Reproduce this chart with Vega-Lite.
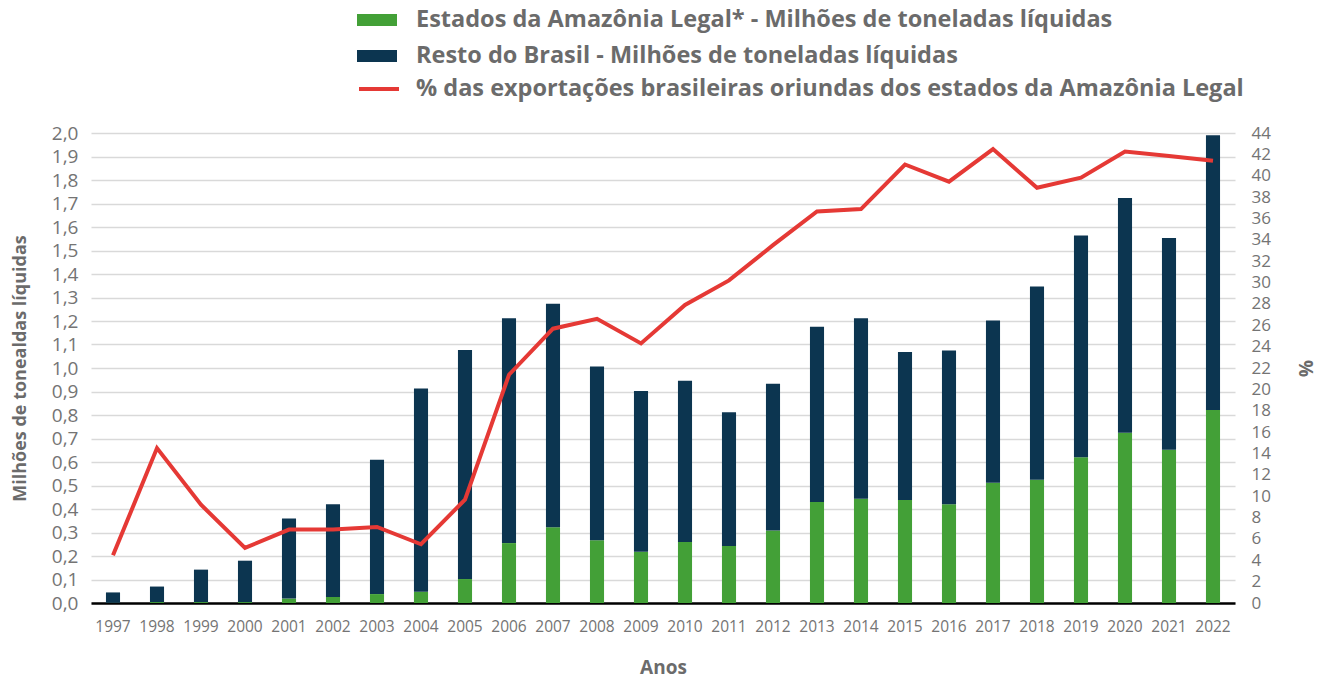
{
  "$schema": "https://vega.github.io/schema/vega-lite/v6.json",
  "width": 1144,
  "height": 470,
  "autosize": {"type": "none"},
  "padding": {"left": 91, "top": 133, "right": 92, "bottom": 76},
  "background": "white",
  "config": {
    "font": "Open Sans",
    "view": {"stroke": null},
    "axis": {"labelColor": "#747474", "titleColor": "#6b6b6b", "labelFont": "Open Sans", "titleFont": "Open Sans"}
  },
  "datasets": {
    "barras": [
      {"ano": "1997", "serie": "Estados da Amazônia Legal* - Milhões de toneladas líquidas", "valor": 0.001},
      {"ano": "1997", "serie": "Resto do Brasil - Milhões de toneladas líquidas", "valor": 0.044},
      {"ano": "1998", "serie": "Estados da Amazônia Legal* - Milhões de toneladas líquidas", "valor": 0.004},
      {"ano": "1998", "serie": "Resto do Brasil - Milhões de toneladas líquidas", "valor": 0.066},
      {"ano": "1999", "serie": "Estados da Amazônia Legal* - Milhões de toneladas líquidas", "valor": 0.004},
      {"ano": "1999", "serie": "Resto do Brasil - Milhões de toneladas líquidas", "valor": 0.138},
      {"ano": "2000", "serie": "Estados da Amazônia Legal* - Milhões de toneladas líquidas", "valor": 0.004},
      {"ano": "2000", "serie": "Resto do Brasil - Milhões de toneladas líquidas", "valor": 0.176},
      {"ano": "2001", "serie": "Estados da Amazônia Legal* - Milhões de toneladas líquidas", "valor": 0.019},
      {"ano": "2001", "serie": "Resto do Brasil - Milhões de toneladas líquidas", "valor": 0.341},
      {"ano": "2002", "serie": "Estados da Amazônia Legal* - Milhões de toneladas líquidas", "valor": 0.026},
      {"ano": "2002", "serie": "Resto do Brasil - Milhões de toneladas líquidas", "valor": 0.394},
      {"ano": "2003", "serie": "Estados da Amazônia Legal* - Milhões de toneladas líquidas", "valor": 0.038},
      {"ano": "2003", "serie": "Resto do Brasil - Milhões de toneladas líquidas", "valor": 0.572},
      {"ano": "2004", "serie": "Estados da Amazônia Legal* - Milhões de toneladas líquidas", "valor": 0.048},
      {"ano": "2004", "serie": "Resto do Brasil - Milhões de toneladas líquidas", "valor": 0.865},
      {"ano": "2005", "serie": "Estados da Amazônia Legal* - Milhões de toneladas líquidas", "valor": 0.102},
      {"ano": "2005", "serie": "Resto do Brasil - Milhões de toneladas líquidas", "valor": 0.975},
      {"ano": "2006", "serie": "Estados da Amazônia Legal* - Milhões de toneladas líquidas", "valor": 0.255},
      {"ano": "2006", "serie": "Resto do Brasil - Milhões de toneladas líquidas", "valor": 0.957},
      {"ano": "2007", "serie": "Estados da Amazônia Legal* - Milhões de toneladas líquidas", "valor": 0.322},
      {"ano": "2007", "serie": "Resto do Brasil - Milhões de toneladas líquidas", "valor": 0.951},
      {"ano": "2008", "serie": "Estados da Amazônia Legal* - Milhões de toneladas líquidas", "valor": 0.267},
      {"ano": "2008", "serie": "Resto do Brasil - Milhões de toneladas líquidas", "valor": 0.739},
      {"ano": "2009", "serie": "Estados da Amazônia Legal* - Milhões de toneladas líquidas", "valor": 0.218},
      {"ano": "2009", "serie": "Resto do Brasil - Milhões de toneladas líquidas", "valor": 0.684},
      {"ano": "2010", "serie": "Estados da Amazônia Legal* - Milhões de toneladas líquidas", "valor": 0.26},
      {"ano": "2010", "serie": "Resto do Brasil - Milhões de toneladas líquidas", "valor": 0.686},
      {"ano": "2011", "serie": "Estados da Amazônia Legal* - Milhões de toneladas líquidas", "valor": 0.243},
      {"ano": "2011", "serie": "Resto do Brasil - Milhões de toneladas líquidas", "valor": 0.569},
      {"ano": "2012", "serie": "Estados da Amazônia Legal* - Milhões de toneladas líquidas", "valor": 0.308},
      {"ano": "2012", "serie": "Resto do Brasil - Milhões de toneladas líquidas", "valor": 0.625},
      {"ano": "2013", "serie": "Estados da Amazônia Legal* - Milhões de toneladas líquidas", "valor": 0.43},
      {"ano": "2013", "serie": "Resto do Brasil - Milhões de toneladas líquidas", "valor": 0.746},
      {"ano": "2014", "serie": "Estados da Amazônia Legal* - Milhões de toneladas líquidas", "valor": 0.444},
      {"ano": "2014", "serie": "Resto do Brasil - Milhões de toneladas líquidas", "valor": 0.768},
      {"ano": "2015", "serie": "Estados da Amazônia Legal* - Milhões de toneladas líquidas", "valor": 0.438},
      {"ano": "2015", "serie": "Resto do Brasil - Milhões de toneladas líquidas", "valor": 0.63},
      {"ano": "2016", "serie": "Estados da Amazônia Legal* - Milhões de toneladas líquidas", "valor": 0.42},
      {"ano": "2016", "serie": "Resto do Brasil - Milhões de toneladas líquidas", "valor": 0.654},
      {"ano": "2017", "serie": "Estados da Amazônia Legal* - Milhões de toneladas líquidas", "valor": 0.512},
      {"ano": "2017", "serie": "Resto do Brasil - Milhões de toneladas líquidas", "valor": 0.69},
      {"ano": "2018", "serie": "Estados da Amazônia Legal* - Milhões de toneladas líquidas", "valor": 0.524},
      {"ano": "2018", "serie": "Resto do Brasil - Milhões de toneladas líquidas", "valor": 0.823},
      {"ano": "2019", "serie": "Estados da Amazônia Legal* - Milhões de toneladas líquidas", "valor": 0.62},
      {"ano": "2019", "serie": "Resto do Brasil - Milhões de toneladas líquidas", "valor": 0.944},
      {"ano": "2020", "serie": "Estados da Amazônia Legal* - Milhões de toneladas líquidas", "valor": 0.725},
      {"ano": "2020", "serie": "Resto do Brasil - Milhões de toneladas líquidas", "valor": 0.998},
      {"ano": "2021", "serie": "Estados da Amazônia Legal* - Milhões de toneladas líquidas", "valor": 0.652},
      {"ano": "2021", "serie": "Resto do Brasil - Milhões de toneladas líquidas", "valor": 0.901},
      {"ano": "2022", "serie": "Estados da Amazônia Legal* - Milhões de toneladas líquidas", "valor": 0.821},
      {"ano": "2022", "serie": "Resto do Brasil - Milhões de toneladas líquidas", "valor": 1.169}
    ],
    "linha": [
      {"ano": "1997", "serie": "% das exportações brasileiras oriundas dos estados da Amazônia Legal", "pct": 4.46},
      {"ano": "1998", "serie": "% das exportações brasileiras oriundas dos estados da Amazônia Legal", "pct": 14.5},
      {"ano": "1999", "serie": "% das exportações brasileiras oriundas dos estados da Amazônia Legal", "pct": 9.2},
      {"ano": "2000", "serie": "% das exportações brasileiras oriundas dos estados da Amazônia Legal", "pct": 5.16},
      {"ano": "2001", "serie": "% das exportações brasileiras oriundas dos estados da Amazônia Legal", "pct": 6.87},
      {"ano": "2002", "serie": "% das exportações brasileiras oriundas dos estados da Amazônia Legal", "pct": 6.87},
      {"ano": "2003", "serie": "% das exportações brasileiras oriundas dos estados da Amazônia Legal", "pct": 7.12},
      {"ano": "2004", "serie": "% das exportações brasileiras oriundas dos estados da Amazônia Legal", "pct": 5.5},
      {"ano": "2005", "serie": "% das exportações brasileiras oriundas dos estados da Amazônia Legal", "pct": 9.68},
      {"ano": "2006", "serie": "% das exportações brasileiras oriundas dos estados da Amazônia Legal", "pct": 21.37},
      {"ano": "2007", "serie": "% das exportações brasileiras oriundas dos estados da Amazônia Legal", "pct": 25.68},
      {"ano": "2008", "serie": "% das exportações brasileiras oriundas dos estados da Amazônia Legal", "pct": 26.6},
      {"ano": "2009", "serie": "% das exportações brasileiras oriundas dos estados da Amazônia Legal", "pct": 24.3},
      {"ano": "2010", "serie": "% das exportações brasileiras oriundas dos estados da Amazônia Legal", "pct": 27.9},
      {"ano": "2011", "serie": "% das exportações brasileiras oriundas dos estados da Amazônia Legal", "pct": 30.2},
      {"ano": "2012", "serie": "% das exportações brasileiras oriundas dos estados da Amazônia Legal", "pct": 33.5},
      {"ano": "2013", "serie": "% das exportações brasileiras oriundas dos estados da Amazônia Legal", "pct": 36.65},
      {"ano": "2014", "serie": "% das exportações brasileiras oriundas dos estados da Amazônia Legal", "pct": 36.88},
      {"ano": "2015", "serie": "% das exportações brasileiras oriundas dos estados da Amazônia Legal", "pct": 41.05},
      {"ano": "2016", "serie": "% das exportações brasileiras oriundas dos estados da Amazônia Legal", "pct": 39.44},
      {"ano": "2017", "serie": "% das exportações brasileiras oriundas dos estados da Amazônia Legal", "pct": 42.5},
      {"ano": "2018", "serie": "% das exportações brasileiras oriundas dos estados da Amazônia Legal", "pct": 38.87},
      {"ano": "2019", "serie": "% das exportações brasileiras oriundas dos estados da Amazônia Legal", "pct": 39.82},
      {"ano": "2020", "serie": "% das exportações brasileiras oriundas dos estados da Amazônia Legal", "pct": 42.26},
      {"ano": "2021", "serie": "% das exportações brasileiras oriundas dos estados da Amazônia Legal", "pct": 41.85},
      {"ano": "2022", "serie": "% das exportações brasileiras oriundas dos estados da Amazônia Legal", "pct": 41.4}
    ]
  },
  "layer": [
    {
      "data": {"name": "barras"},
      "mark": {"type": "bar"},
      "encoding": {
        "x": {
          "field": "ano", "type": "ordinal",
          "scale": {"paddingInner": 0.68, "paddingOuter": 0.34},
          "axis": {
            "title": "Anos", "titleFontSize": 19, "titleFontWeight": "bold", "titlePadding": 24,
            "labelFontSize": 15.5, "labelAngle": 0, "labelPadding": 16, "ticks": false,
            "domainColor": "#000000", "domainWidth": 2.5, "grid": false
          }
        },
        "y": {
          "field": "valor", "type": "quantitative", "stack": "zero",
          "scale": {"domain": [0, 2], "nice": false},
          "axis": {
            "title": "Milhões de tonealdas líquidas", "titleFontSize": 18, "titleFontWeight": "bold", "titlePadding": 22,
            "values": [0, 0.1, 0.2, 0.3, 0.4, 0.5, 0.6, 0.7, 0.8, 0.9, 1.0, 1.1, 1.2, 1.3, 1.4, 1.5, 1.6, 1.7, 1.8, 1.9, 2.0],
            "labelExpr": "replace(format(datum.value, '.1f'), '.', ',')",
            "labelFontSize": 19, "labelPadding": 13, "ticks": false, "domain": false,
            "grid": true, "gridColor": "#d9d9d9", "gridWidth": 1.5
          }
        },
        "order": {"field": "serie", "type": "nominal", "sort": "ascending"},
        "fill": {
          "field": "serie", "type": "nominal",
          "scale": {
            "domain": ["Estados da Amazônia Legal* - Milhões de toneladas líquidas", "Resto do Brasil - Milhões de toneladas líquidas"],
            "range": ["#43A037", "#0C3550"]
          },
          "legend": {
            "orient": "none", "legendX": 266, "legendY": -133, "title": null,
            "symbolType": "M-1,-0.3H1V0.3H-1Z", "symbolSize": 1600, "symbolStrokeWidth": 0,
            "labelFontSize": 23.5, "labelFontWeight": "bold", "labelColor": "#6b6b6b", "labelFont": "Open Sans",
            "labelOffset": 19, "labelLimit": 1000, "rowPadding": 4
          }
        }
      }
    },
    {
      "data": {"name": "linha"},
      "mark": {"type": "line", "strokeWidth": 4, "strokeJoin": "miter"},
      "encoding": {
        "x": {"field": "ano", "type": "ordinal"},
        "y": {
          "field": "pct", "type": "quantitative",
          "scale": {"domain": [0, 44], "nice": false},
          "axis": {
            "orient": "right", "title": "%", "titleFontSize": 19, "titleFontWeight": "bold", "titlePadding": 24,
            "values": [0, 2, 4, 6, 8, 10, 12, 14, 16, 18, 20, 22, 24, 26, 28, 30, 32, 34, 36, 38, 40, 42, 44],
            "labelFontSize": 17, "labelPadding": 16, "ticks": false, "domain": false, "grid": false
          }
        },
        "stroke": {
          "field": "serie", "type": "nominal",
          "scale": {"range": ["#E53935"]},
          "legend": {
            "orient": "none", "legendX": 266, "legendY": -66, "title": null,
            "symbolType": "M-1,0H1", "symbolSize": 1600, "symbolStrokeWidth": 4,
            "labelFontSize": 23.5, "labelFontWeight": "bold", "labelColor": "#6b6b6b", "labelFont": "Open Sans",
            "labelOffset": 15, "labelLimit": 1000
          }
        }
      }
    }
  ],
  "resolve": {"scale": {"y": "independent"}}
}
